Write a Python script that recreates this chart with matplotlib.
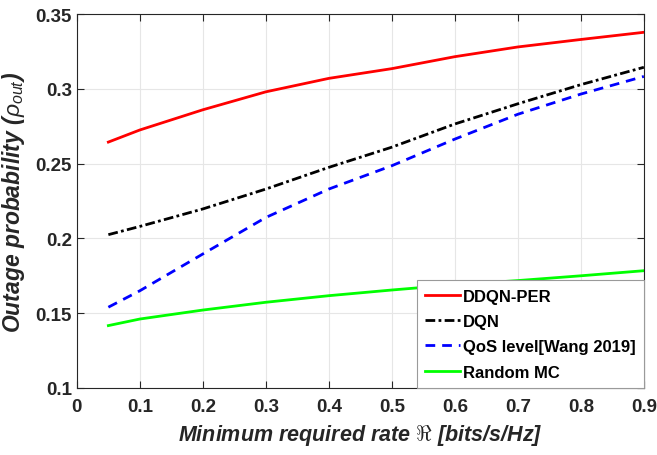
import matplotlib
matplotlib.use("Agg")
import matplotlib.pyplot as plt

# rate axis (bits/s/Hz)
rate = [0.05, 0.1, 0.2, 0.3, 0.4, 0.5, 0.6, 0.7, 0.8, 0.9]

ddqn_per = [0.2644, 0.2725, 0.2860, 0.2980, 0.3070, 0.3135, 0.3215, 0.3280, 0.3330, 0.3378]
dqn = [0.2025, 0.2080, 0.2197, 0.2330, 0.2475, 0.2610, 0.2765, 0.2900, 0.3028, 0.3144]
qos_wang = [0.1540, 0.1650, 0.1896, 0.2140, 0.2330, 0.2486, 0.2664, 0.2830, 0.2965, 0.3083]
random_mc = [0.1417, 0.1461, 0.1521, 0.1573, 0.1617, 0.1655, 0.1690, 0.1718, 0.1750, 0.1784]

xticks = [0, 0.1, 0.2, 0.3, 0.4, 0.5, 0.6, 0.7, 0.8, 0.9]
yticks = [0.1, 0.15, 0.2, 0.25, 0.3, 0.35]

plt.rcParams["font.family"] = ["Liberation Sans", "DejaVu Sans"]
plt.rcParams["mathtext.fontset"] = "custom"
plt.rcParams["mathtext.it"] = "Liberation Sans:italic"
plt.rcParams["mathtext.rm"] = "Liberation Sans:bold"

fig = plt.figure(figsize=(6.57, 4.56), dpi=100)
ax = fig.add_axes([0.117, 0.147, 0.863, 0.820])

ax.plot(rate, ddqn_per, color="#ff0000", lw=2, label="DDQN-PER")
ax.plot(rate, dqn, color="black", lw=2, ls=(0, (3.5, 1.2, 1, 1.2)), label="DQN")
ax.plot(rate, qos_wang, color="#0000ff", lw=2, ls=(0, (3.5, 2.5)), label="QoS level[Wang 2019]")
ax.plot(rate, random_mc, color="#00ff00", lw=2, label="Random MC")

ax.set_xlim(0, 0.9)
ax.set_ylim(0.1, 0.35)
ax.set_xticks(xticks)
ax.set_yticks(yticks)
ax.set_xticklabels(["0", "0.1", "0.2", "0.3", "0.4", "0.5", "0.6", "0.7", "0.8", "0.9"])
ax.set_yticklabels(["0.1", "0.15", "0.2", "0.25", "0.3", "0.35"])
ax.grid(True, color="#e6e6e6", lw=0.8)
ax.set_axisbelow(True)
ax.tick_params(direction="in", top=True, right=True, length=5, width=0.8,
               color="#262626", labelsize=13.5, labelcolor="#262626")
ax.tick_params(axis="x", pad=7)
for lbl in ax.get_xticklabels() + ax.get_yticklabels():
    lbl.set_fontweight("bold")
for s in ax.spines.values():
    s.set_color("#262626")
    s.set_linewidth(0.8)

ax.set_xlabel(r"Minimum required rate $\Re$ [bits/s/Hz]", fontsize=15.5,
              fontweight="bold", fontstyle="italic", color="#262626", labelpad=5)
ax.set_ylabel(r"Outage probability ($\rho_{out}$)", fontsize=16.5,
              fontweight="bold", fontstyle="italic", color="#262626", labelpad=6)

leg = ax.legend(loc="lower right", borderaxespad=0, fancybox=False,
                prop={"weight": "bold", "size": 12}, handlelength=2.1,
                handletextpad=0.15, labelspacing=0.62, borderpad=0.5)
leg.get_frame().set_edgecolor("#9a9a9a")
leg.get_frame().set_linewidth(0.8)
leg.get_frame().set_alpha(1)

fig.savefig("out.png", dpi=100)
